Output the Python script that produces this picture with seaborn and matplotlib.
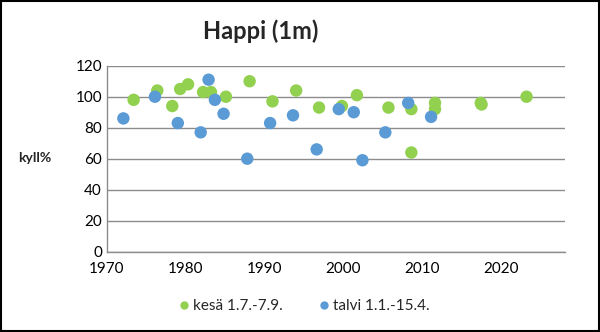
import matplotlib
matplotlib.use("Agg")
import matplotlib.pyplot as plt
import seaborn as sns
import pandas as pd
from matplotlib.patches import Rectangle

# Summer samples (1.7.-7.9.)
summer_year = [1973.4, 1976.4, 1978.3, 1979.3, 1980.3, 1982.2, 1983.2, 1985.1,
               1988.1, 1991.0, 1994.0, 1996.9, 1999.8, 2001.7, 2005.7, 2008.6,
               2008.6, 2011.6, 2011.6, 2017.4, 2017.5, 2023.2]
summer_val = [98, 104, 94, 105, 108, 103, 103, 100,
              110, 97, 104, 93, 94, 101, 93, 92,
              64, 96, 92, 96, 95, 100]

# Winter samples (1.1.-15.4.)
winter_year = [1972.1, 1976.1, 1979.0, 1981.9, 1982.9, 1983.7, 1984.8, 1987.8,
               1990.7, 1993.6, 1996.6, 1999.4, 2001.3, 2002.4, 2005.3, 2008.2,
               2011.1]
winter_val = [86, 100, 83, 77, 111, 98, 89, 60,
              83, 88, 66, 92, 90, 59, 77, 96,
              87]

summer_label = "kesä 1.7.-7.9."
winter_label = "talvi 1.1.-15.4."
y_ticks = [0, 20, 40, 60, 80, 100, 120]
x_ticks = [1970, 1980, 1990, 2000, 2010, 2020]

df = pd.concat([
    pd.DataFrame({"vuosi": summer_year, "happi": summer_val, "kausi": summer_label}),
    pd.DataFrame({"vuosi": winter_year, "happi": winter_val, "kausi": winter_label}),
], ignore_index=True)

sns.set_style("white")
plt.rcParams["font.family"] = ["Lato", "DejaVu Sans"]

fig = plt.figure(figsize=(6.0, 3.32), dpi=100)
ax = fig.add_axes([0.178, 0.242, 0.764, 0.56])

palette = {summer_label: "#92D050", winter_label: "#5B9BD5"}
sns.scatterplot(data=df, x="vuosi", y="happi", hue="kausi", palette=palette,
                s=80, linewidth=0, ax=ax, zorder=3, legend=False)

ax.set_xlim(1970, 2028.1)
ax.set_ylim(0, 120)
ax.set_xticks(x_ticks)
ax.set_yticks(y_ticks)
ax.tick_params(axis="both", labelsize=11, colors="#404040", length=4,
               width=0.8, direction="out")
ax.tick_params(axis="x", colors="#808080", labelcolor="#000000")
ax.tick_params(axis="y", length=0, labelcolor="#000000")
ax.yaxis.grid(True, color="#8c8c8c", linewidth=1.0)
ax.xaxis.grid(False)
ax.set_axisbelow(True)
for side in ["top", "right"]:
    ax.spines[side].set_visible(False)
for side in ["left", "bottom"]:
    ax.spines[side].set_color("#8c8c8c")
    ax.spines[side].set_linewidth(1.0)
ax.set_xlabel("")
ax.set_ylabel("")

fig.text(0.435, 0.905, "Happi (1m)", ha="center", va="center",
         fontsize=17, fontweight="bold")
fig.text(0.058, 0.525, "kyll%", ha="center", va="center",
         fontsize=10, fontweight="bold")

handles = [
    plt.Line2D([], [], marker="o", linestyle="", markersize=6,
               markerfacecolor=palette[summer_label], markeredgewidth=0,
               label=summer_label),
    plt.Line2D([], [], marker="o", linestyle="", markersize=6,
               markerfacecolor=palette[winter_label], markeredgewidth=0,
               label=winter_label),
]
fig.legend(handles=handles, loc="center", bbox_to_anchor=(0.505, 0.078),
           ncol=2, frameon=False, fontsize=11, handletextpad=0.1,
           columnspacing=2.2, handlelength=1.0)

fig.patches.append(Rectangle((0.0015, 0.0025), 0.997, 0.995,
                             transform=fig.transFigure, fill=False,
                             edgecolor="#000000", linewidth=1.5))

fig.savefig("out.png", dpi=100)
